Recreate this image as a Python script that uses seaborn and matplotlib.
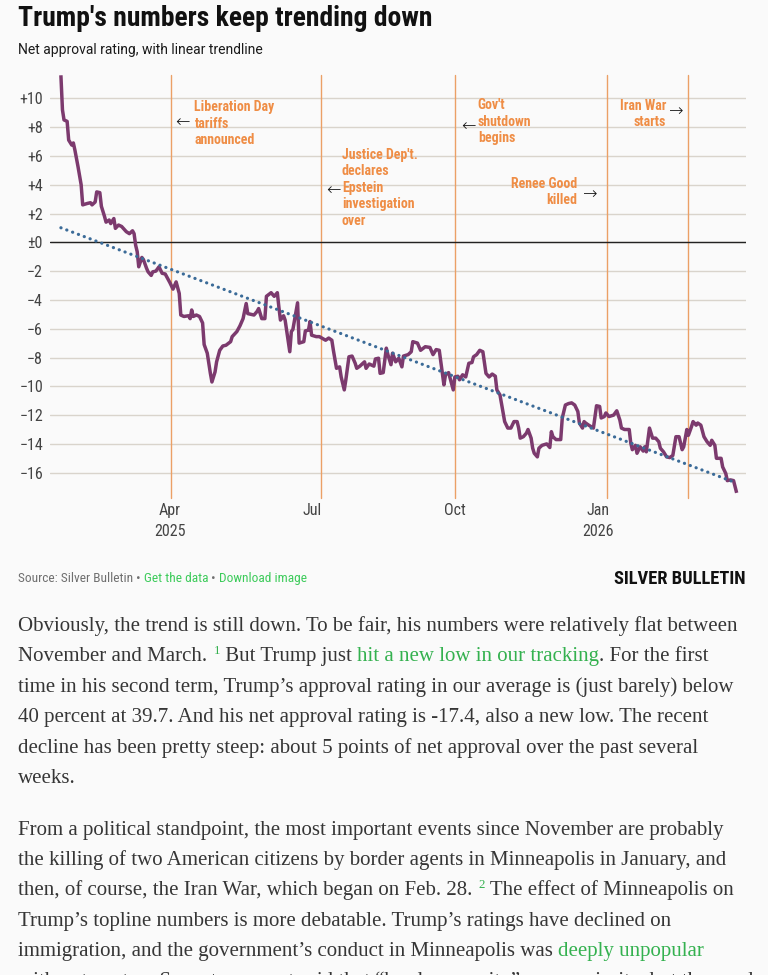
import numpy as np
import pandas as pd
import matplotlib
matplotlib.use("Agg")
import matplotlib.pyplot as plt
import matplotlib.dates as mdates
from matplotlib import font_manager as fm
from matplotlib.transforms import offset_copy
import seaborn as sns

# ---------------- data ----------------
TITLE = "Trump's numbers keep trending down"
SUBTITLE = "Net approval rating, with linear trendline"
START = "2025-01-20"  # day 0 of the term

days = [1, 2, 3, 5, 6, 8, 9, 10, 12, 14, 15, 18, 20, 21, 23, 24, 26, 27, 29, 30,
        32, 33, 35, 36, 38, 40, 43, 45, 47, 48, 49, 50, 51, 53, 54, 56, 57, 59, 60, 62,
        64, 66, 68, 71, 73, 75, 77, 78, 80, 83, 84, 85, 86, 88, 90, 92, 93, 95, 96, 97,
        98, 100, 101, 103, 105, 107, 110, 111, 114, 116, 118, 120, 121, 125, 127, 128, 130, 132, 133, 136,
        138, 140, 141, 142, 144, 145, 148, 149, 150, 153, 154, 157, 158, 160, 161, 162, 165, 167, 171, 173,
        175, 176, 178, 180, 181, 183, 184, 186, 188, 190, 191, 193, 196, 197, 199, 202, 203, 205, 206, 208,
        210, 211, 213, 214, 216, 218, 220, 221, 224, 226, 227, 230, 232, 235, 238, 240, 242, 244, 247, 248,
        250, 253, 254, 256, 257, 259, 261, 263, 265, 266, 268, 270, 272, 274, 276, 278, 280, 281, 283, 286,
        288, 290, 292, 294, 295, 296, 298, 300, 301, 303, 304, 305, 307, 308, 310, 313, 315, 316, 317, 319,
        322, 323, 324, 325, 327, 329, 331, 333, 334, 336, 337, 338, 340, 343, 344, 345, 347, 348, 350, 351,
        353, 356, 358, 360, 361, 363, 366, 367, 368, 370, 371, 373, 375, 376, 377, 379, 381, 383, 385, 386,
        388, 390, 392, 394, 396, 398, 400, 401, 403, 404, 406, 407, 409, 410, 412, 414, 416, 418, 419, 421,
        422, 425, 426, 428, 429, 431, 433, 435]

net = [11.6, 9.2, 8.5, 8.4, 7.1, 6.75, 6.9, 6.4, 5.25, 4.0, 2.6, 2.7, 2.75, 2.6, 2.8, 3.5, 3.45, 2.5, 1.8, 1.4,
       1.55, 1.3, 1.65, 0.97, 1.2, 1.1, 0.74, 0.6, 0.8, 0.6, -0.2, -0.65, -1.7, -1.05, -1.2, -1.8, -2.05, -2.3, -2.05, -2.0,
       -1.7, -2.15, -2.2, -2.8, -3.25, -2.75, -3.55, -5.05, -5.15, -5.1, -5.3, -4.7, -5.15, -5.05, -5.15, -5.6, -7.1, -7.7, -8.4, -9.1,
       -9.7, -9.0, -8.3, -7.5, -7.2, -7.15, -6.9, -6.55, -6.2, -5.8, -5.3, -4.25, -4.95, -5.05, -4.8, -4.6, -5.3, -5.3, -3.75, -3.5,
       -3.75, -3.5, -4.5, -5.4, -5.1, -5.4, -7.6, -6.2, -6.05, -4.2, -7.0, -6.9, -6.15, -6.1, -5.5, -6.45, -6.55, -6.55, -6.8, -6.65,
       -6.8, -7.5, -8.75, -8.65, -9.35, -10.25, -9.55, -7.95, -7.9, -8.4, -8.75, -8.6, -8.3, -8.75, -8.45, -8.6, -8.1, -8.05, -9.1, -9.05,
       -7.35, -7.8, -8.5, -7.7, -8.3, -8.05, -8.65, -7.9, -7.8, -7.6, -6.9, -7.0, -7.5, -7.25, -7.3, -7.8, -7.45, -7.5, -9.9, -9.2,
       -9.05, -10.25, -9.35, -9.3, -9.55, -9.2, -9.35, -8.4, -8.35, -7.95, -7.8, -7.5, -7.6, -9.1, -9.35, -9.15, -9.3, -10.25, -10.6, -12.45,
       -12.9, -12.9, -12.45, -12.45, -12.9, -13.6, -13.5, -13.25, -13.0, -13.6, -14.3, -14.65, -14.9, -14.3, -14.1, -14.0, -14.25, -13.15, -13.5, -13.7,
       -13.7, -12.2, -11.75, -11.3, -11.2, -11.15, -11.3, -11.75, -12.55, -12.9, -12.45, -12.55, -12.7, -12.9, -12.1, -11.35, -11.4, -12.2, -12.1, -11.85,
       -12.1, -12.0, -11.7, -12.35, -12.9, -13.0, -13.0, -13.95, -14.4, -14.1, -14.65, -14.2, -14.5, -14.2, -14.55, -12.9, -13.6, -13.6, -13.85, -14.3,
       -14.55, -14.9, -14.95, -14.8, -13.5, -13.5, -14.4, -14.2, -13.0, -13.4, -12.8, -12.45, -12.7, -12.55, -12.7, -13.5, -13.85, -14.1, -13.75, -14.1,
       -15.0, -15.0, -15.6, -16.05, -16.55, -16.5, -16.55, -17.4]

event_dates = ["2025-04-02", "2025-07-07", "2025-10-01", "2026-01-07", "2026-02-28"]
event_labels = ["Liberation Day\ntariffs\nannounced",
                "Justice Dep't.\ndeclares\nEpstein\ninvestigation\nover",
                "Gov't\nshutdown\nbegins",
                "Renee Good\nkilled",
                "Iran War\nstarts"]

xtick_dates = ["2025-04-01", "2025-07-01", "2025-10-01", "2026-01-01"]
xtick_labels = ["Apr\n2025", "Jul", "Oct", "Jan\n2026"]
ytick_values = [10, 8, 6, 4, 2, 0, -2, -4, -6, -8, -10, -12, -14, -16]
ytick_labels = ["+10", "+8", "+6", "+4", "+2", "\u00b10", "\u22122", "\u22124", "\u22126",
                "\u22128", "\u221210", "\u221212", "\u221214", "\u221216"]

SOURCE_PARTS = ["Source: Silver Bulletin", " \u2022 ", "Get the data", " \u2022 ", "Download image"]
LOGO = "SILVER BULLETIN"

para1 = [
    [("Obviously, the trend is still down. To be fair, his numbers were relatively flat between", "t")],
    [("November and March. ", "t"), ("1", "s"), (" But Trump just ", "t"),
     ("hit a new low in our tracking", "l"), (". For the first", "t")],
    [("time in his second term, Trump\u2019s approval rating in our average is (just barely) below", "t")],
    [("40 percent at 39.7. And his net approval rating is -17.4, also a new low. The recent", "t")],
    [("decline has been pretty steep: about 5 points of net approval over the past several", "t")],
    [("weeks.", "t")],
]
para2 = [
    [("From a political standpoint, the most important events since November are probably", "t")],
    [("the killing of two American citizens by border agents in Minneapolis in January, and", "t")],
    [("then, of course, the Iran War, which began on Feb. 28. ", "t"), ("2", "s"),
     (" The effect of Minneapolis on", "t")],
    [("Trump\u2019s topline numbers is more debatable. Trump\u2019s ratings have declined on", "t")],
    [("immigration, and the government\u2019s conduct in Minneapolis was ", "t"), ("deeply unpopular", "l")],
    [("with voters, too. Seventy percent said that \u201cborder security\u201d was a priority, but the conduct", "t")],
]

# ---------------- style ----------------
W, H = 768, 975
BG = "#fafafa"
PURPLE = "#7c3a6e"
BLUE = "#3b6b98"
GRID = "#d9d4cc"
EVENT_LINE = "#eba066"
EVENT_TEXT = "#ef8d45"
TICK = "#444444"
BODY = "#363636"
LINK = "#34b14f"
SRC_LINK = "#3ccb5a"
SRC_GRAY = "#6f6f6f"

available = {f.name for f in fm.fontManager.ttflist}


def pick(*names):
    for n in names:
        if n in available:
            return n
    return "DejaVu Sans"


COND = pick("Liberation Sans Narrow", "Roboto Condensed", "Roboto", "DejaVu Sans")
SANS = pick("Roboto", "Liberation Sans", "DejaVu Sans")
SERIF = pick("Liberation Serif", "DejaVu Serif")

sns.set_theme(style="white")
plt.rcParams["font.family"] = [SANS, "DejaVu Sans"]
plt.rcParams["axes.unicode_minus"] = True

fig = plt.figure(figsize=(W / 100, H / 100), dpi=100, facecolor=BG)
renderer = fig.canvas.get_renderer()


def fx(x):
    return x / W


def fy(y):
    return 1 - y / H


def text_width(s, **kw):
    t = fig.text(0, 0, s + "|", **kw)
    w1 = t.get_window_extent(renderer).width
    t.set_text("|")
    w2 = t.get_window_extent(renderer).width
    t.remove()
    return w1 - w2


def fit_size(s, target, base=10, **kw):
    return base * target / text_width(s, fontsize=base, **kw)


# ---------------- chart ----------------
AX_TOP, AX_BOT = 72.4, 494.3
ax = fig.add_axes([fx(50), fy(AX_BOT), 696 / W, (AX_BOT - AX_TOP) / H])
ax.set_facecolor(BG)

dates = pd.Timestamp(START) + pd.to_timedelta(days, unit="D")
df = pd.DataFrame({"x": mdates.date2num(dates), "net": net})

sns.lineplot(data=df, x="x", y="net", ax=ax, color=PURPLE, linewidth=2.5,
             estimator=None, solid_joinstyle="round", solid_capstyle="butt", zorder=3)
sns.regplot(data=df, x="x", y="net", ax=ax, scatter=False, ci=None, truncate=True,
            line_kws=dict(color=BLUE, linewidth=2.3, linestyle=(0, (0.05, 1.9)),
                          dash_capstyle="round", zorder=4))

ax.set_xlim(mdates.date2num(pd.Timestamp("2025-01-14")), mdates.date2num(pd.Timestamp("2026-04-06")))
ax.set_ylim(-17.5, 11.8)
ax.set_yticks(ytick_values)
ax.set_yticklabels(ytick_labels)
ax.set_xticks(mdates.date2num(pd.to_datetime(xtick_dates)))
ax.set_xticklabels(xtick_labels, linespacing=1.55)
ax.set_xlabel("")
ax.set_ylabel("")
for s in ax.spines.values():
    s.set_visible(False)
ax.tick_params(axis="both", length=0, labelcolor=TICK, labelsize=11.5)
ax.tick_params(axis="y", pad=5)
ax.tick_params(axis="x", pad=6)
for lab in ax.get_xticklabels() + ax.get_yticklabels():
    lab.set_fontfamily([COND, "DejaVu Sans"])
ax.grid(axis="y", color=GRID, linewidth=1)
ax.grid(axis="x", visible=False)
ax.set_axisbelow(True)
ax.axhline(0, color="#222222", linewidth=1, zorder=2)

# events: (text side, text-top value, text offset px, arrow value, arrow offset px)
layout = [("left", 9.85, 23, 8.37, 11),
          ("left", 6.55, 21, 3.63, 12),
          ("left", 10.0, 23, 8.07, 14),
          ("right", 4.55, -30, 3.35, -17),
          ("right", 9.95, -22, 9.14, -12)]
for d, lab, (side, ty, tdx, ay, adx) in zip(event_dates, event_labels, layout):
    xv = mdates.date2num(pd.Timestamp(d))
    ax.axvline(xv, ymin=-0.008, ymax=0.995, color=EVENT_LINE, linewidth=1, zorder=1, clip_on=False)
    ax.text(xv, ty, lab, transform=offset_copy(ax.transData, fig, x=tdx, y=0, units="dots"),
            ha=side, va="top", color=EVENT_TEXT, fontsize=10, fontweight="bold",
            family=[COND, "DejaVu Sans"], linespacing=1.22, multialignment=side, zorder=5)
    ax.text(xv, ay, "\u2190" if side == "left" else "\u2192",
            transform=offset_copy(ax.transData, fig, x=adx, y=0, units="dots"),
            ha="center", va="center", color="#111111", fontsize=12.5, family="DejaVu Sans",
            fontweight="light", zorder=5)

# ---------------- titles ----------------
ts = fit_size(TITLE, 415, base=18, family=[COND, "DejaVu Sans"], fontweight="bold")
fig.text(fx(18), fy(26), TITLE, fontsize=ts, fontweight="bold", family=[COND, "DejaVu Sans"],
         color="#111111", va="baseline", ha="left")
ss = fit_size(SUBTITLE, 245, base=10, family=[SANS, "DejaVu Sans"])
fig.text(fx(18), fy(54), SUBTITLE, fontsize=ss, family=[SANS, "DejaVu Sans"], color="#1a1a1a",
         va="baseline", ha="left")

# ---------------- footer ----------------
src_kw = dict(family=[COND, "DejaVu Sans"])
full = "".join(SOURCE_PARTS)
fs = fit_size(full, 289, base=9, **src_kw)
x = 18
cols = [SRC_GRAY, SRC_GRAY, SRC_LINK, SRC_GRAY, SRC_LINK]
for part, c in zip(SOURCE_PARTS, cols):
    fig.text(fx(x), fy(582), part, fontsize=fs, color=c, va="baseline", ha="left", **src_kw)
    x += text_width(part, fontsize=fs, **src_kw)

ls = fit_size(LOGO, 133, base=14, family=[COND, "DejaVu Sans"], fontweight="heavy")
fig.text(fx(746), fy(584), LOGO, fontsize=ls, fontweight="heavy", family=[COND, "DejaVu Sans"],
         color="#111111", va="baseline", ha="right")

# ---------------- body text ----------------
body_kw = dict(family=[SERIF, "DejaVu Serif"])
bs = fit_size(para1[0][0][0], 715, base=13, **body_kw)


def draw_line(segs, y):
    x = 18
    for txt, kind in segs:
        if kind == "s":
            size = bs * 0.62
            fig.text(fx(x + 1), fy(y - 7), txt, fontsize=size, color=LINK, va="baseline", ha="left", **body_kw)
            x += text_width(txt, fontsize=size, **body_kw) + 1
        else:
            col = LINK if kind == "l" else BODY
            fig.text(fx(x), fy(y), txt, fontsize=bs, color=col, va="baseline", ha="left", **body_kw)
            x += text_width(txt, fontsize=bs, **body_kw)


for i, segs in enumerate(para1):
    draw_line(segs, 631 + i * 30.4)
for i, segs in enumerate(para2):
    draw_line(segs, 835 + i * 30.2)

fig.savefig("out.png", dpi=100, facecolor=BG)
